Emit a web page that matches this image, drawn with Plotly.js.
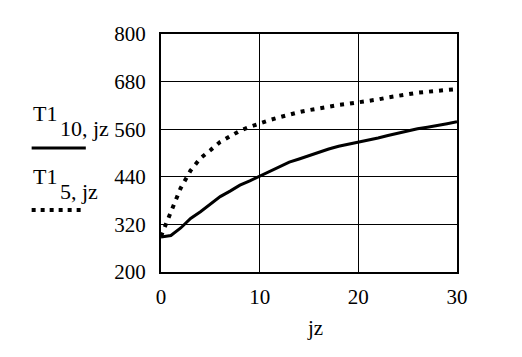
<!DOCTYPE html>
<html>
<head>
<meta charset="utf-8">
<script src="https://cdn.plot.ly/plotly-3.0.1.min.js"></script>
<style>html,body{margin:0;padding:0;background:#fff;}#chart{width:522px;height:357px;}</style>
</head>
<body>
<div id="chart"></div>
<script>
const jz = [0,1,2,3,4,5,6,7,8,9,10,11,12,13,14,15,16,17,18,19,20,21,22,23,24,25,26,27,28,29,30];
const T1_10 = [288,292,311,335,352,372,390,404,419,430,442,454,466,477,485,494,502,510,517,522,527,533,538,544,550,556,561,565,569,574,579];
const T1_5 = [290,350,412,456,487,507,528,542,556,566,575,583,590,597,603,608,613,617,621,624,627,631,635,640,645,648,652,655,657,659,661];
const xTicks = [0,10,20,30];
const yTicks = [200,320,440,560,680,800];
const xTitle = 'jz';
const labelMain = 'T1';
const labelSub10 = '10, jz';
const labelSub5 = '5, jz';

const fontFam = 'Liberation Serif, Times New Roman, serif';

const traces = [
  {x: jz, y: T1_10, type: 'scatter', mode: 'lines', name: 'T1_10,jz',
   line: {color: '#000', width: 3}},
  {x: jz, y: T1_5, type: 'scatter', mode: 'lines', name: 'T1_5,jz',
   line: {color: '#000', width: 4, dash: '4px,6px'}}
];

const layout = {
  width: 522, height: 357,
  margin: {l: 161, r: 65, t: 34, b: 85},
  paper_bgcolor: '#fff', plot_bgcolor: '#fff',
  showlegend: false,
  font: {family: fontFam, size: 21, color: '#000'},
  xaxis: {
    range: [0, 30], tickvals: xTicks, ticktext: xTicks.map(String),
    showline: true, mirror: true, linewidth: 2, linecolor: '#000',
    showgrid: true, gridcolor: '#000', gridwidth: 1, zeroline: false,
    ticks: '', ticklabelstandoff: 5,
    tickfont: {family: fontFam, size: 21, color: '#000'},
    automargin: false, fixedrange: true
  },
  yaxis: {
    range: [200, 800], tickvals: yTicks, ticktext: yTicks.map(String),
    showline: true, mirror: true, linewidth: 2, linecolor: '#000',
    showgrid: true, gridcolor: '#000', gridwidth: 1, zeroline: false,
    ticks: '', ticklabelstandoff: 9,
    tickfont: {family: fontFam, size: 21, color: '#000'},
    automargin: false, fixedrange: true
  },
  annotations: [
    {xref: 'paper', yref: 'paper', x: 0.52, y: -0.235, xanchor: 'center', yanchor: 'middle', showarrow: false, text: xTitle, font: {family: fontFam, size: 21}},
    {xref: 'paper', yref: 'paper', x: -0.392, y: 0.668, xanchor: 'center', yanchor: 'middle', showarrow: false, text: labelMain, font: {family: fontFam, size: 22}},
    {xref: 'paper', yref: 'paper', x: -0.348, y: 0.605, xanchor: 'left', yanchor: 'middle', showarrow: false, text: labelSub10, font: {family: fontFam, size: 22}},
    {xref: 'paper', yref: 'paper', x: -0.392, y: 0.4, xanchor: 'center', yanchor: 'middle', showarrow: false, text: labelMain, font: {family: fontFam, size: 22}},
    {xref: 'paper', yref: 'paper', x: -0.348, y: 0.34, xanchor: 'left', yanchor: 'middle', showarrow: false, text: labelSub5, font: {family: fontFam, size: 22}}
  ],
  shapes: [
    {type: 'line', xref: 'paper', yref: 'paper', x0: -0.437, x1: -0.254, y0: 0.521, y1: 0.521, line: {color: '#000', width: 3}},
    {type: 'line', xref: 'paper', yref: 'paper', x0: -0.437, x1: -0.27, y0: 0.26, y1: 0.26, line: {color: '#000', width: 4, dash: '4px,5px'}}
  ]
};

Plotly.newPlot('chart', traces, layout, {displayModeBar: false, staticPlot: true});
</script>
</body>
</html>
